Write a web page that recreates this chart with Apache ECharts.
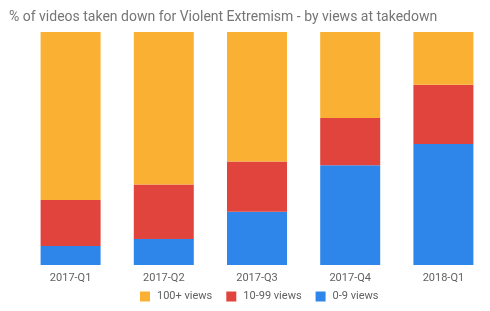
<!DOCTYPE html>
<html><head><meta charset="utf-8">
<script src="https://cdn.jsdelivr.net/npm/echarts@6/dist/echarts.min.js"></script>
<style>html,body{margin:0;padding:0;background:#fff}#c{width:490px;height:311px}</style>
</head><body><div id="c"></div>
<script>
const categories = ['2017-Q1','2017-Q2','2017-Q3','2017-Q4','2018-Q1'];
const views0to9 = [8.2, 11.2, 22.9, 42.8, 51.9];
const views10to99 = [19.7, 23.3, 21.5, 20.3, 25.5];
const views100plus = [72.1, 65.5, 55.6, 36.9, 22.6];
const chart = echarts.init(document.getElementById('c'), null, {renderer:'canvas'});
const font = 'Roboto, "Noto Sans", sans-serif';
chart.setOption({
  animation:false,
  title:{text:'% of videos taken down for Violent Extremism - by views at takedown', left:4, top:5,
    textStyle:{fontFamily:font, fontSize:14, fontWeight:'normal', color:'#757575'}},
  grid:{left:24, right:0, top:32, bottom:46},
  xAxis:{type:'category', data:categories, axisLine:{show:false}, axisTick:{show:false},
    axisLabel:{color:'#616161', fontFamily:font, fontSize:11, margin:8}},
  yAxis:{type:'value', min:0, max:100, show:false, splitLine:{show:false}},
  legend:{top:291, left:140, padding:0, itemWidth:10, itemHeight:10, itemGap:14, icon:'rect',
    textStyle:{fontFamily:font, fontSize:11, color:'#616161', padding:[0,0,0,2]},
    data:['100+ views','10-99 views','0-9 views']},
  series:[
    {name:'0-9 views', type:'bar', stack:'s', data:views0to9, barWidth:60, itemStyle:{color:'#2E86EA'}},
    {name:'10-99 views', type:'bar', stack:'s', data:views10to99, itemStyle:{color:'#E1443D'}},
    {name:'100+ views', type:'bar', stack:'s', data:views100plus, itemStyle:{color:'#FAB133'}}
  ]
});
</script></body></html>
